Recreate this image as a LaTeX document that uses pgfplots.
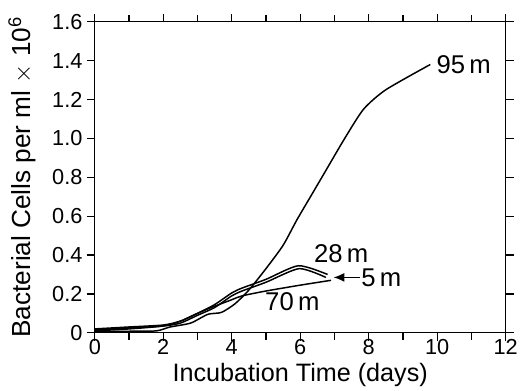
\documentclass[border=0pt]{standalone}
\usepackage{pgfplots}
\pgfplotsset{compat=1.18}
\usetikzlibrary{arrows.meta}
\usepackage{fontspec}
\setmainfont{Liberation Sans}
\begin{document}
\begin{tikzpicture}
\begin{axis}[
  width=416pt, height=315pt, scale only axis,
  xmin=0, xmax=12, ymin=0, ymax=1.6,
  xtick={0,2,...,12}, minor xtick={1,3,...,11},
  ytick={0,0.2,...,1.6},
  yticklabels={0,0.2,0.4,0.6,0.8,1.0,1.2,1.4,1.6},
  tick pos=both, tick align=outside,
  major tick length=8pt, minor tick length=7pt,
  major tick style={black, line width=1.3pt},
  minor tick style={black, line width=1.3pt},
  axis line style={line width=1.4pt},
  /pgf/number format/assume math mode=true,
  tick label style={font=\fontsize{22}{23}\selectfont},
  xticklabel style={yshift=5pt},
  yticklabel style={xshift=-1pt},
  xlabel={Incubation Time (days)},
  ylabel={Bacterial Cells per ml $\times$ 10\textsuperscript{6}},
  xlabel style={yshift=-2pt, font=\fontsize{25.5}{27}\selectfont},
  ylabel style={yshift=10pt, font=\fontsize{26.5}{28}\selectfont},
  clip=false,
]
% 5 m
\addplot[black, line width=1.5pt, smooth, tension=0.4] coordinates {(0,0.015) (1,0.025) (2,0.035) (2.5,0.05) (3,0.09) (3.5,0.13) (4,0.19) (4.3,0.215) (5,0.26) (5.97,0.33) (6.75,0.285)};
% 28 m
\addplot[black, line width=1.5pt, smooth, tension=0.4] coordinates {(0,0.01) (1,0.02) (2,0.035) (2.5,0.06) (3,0.1) (3.5,0.145) (4,0.205) (4.3,0.23) (5,0.275) (5.95,0.345) (6.8,0.30)};
% 70 m
\addplot[black, line width=1.5pt, smooth, tension=0.4] coordinates {(0,0.02) (1,0.03) (2,0.04) (2.5,0.06) (3,0.1) (3.4,0.13) (4,0.17) (4.3,0.19) (5,0.215) (6,0.245) (6.9,0.27)};
% 95 m
\addplot[black, line width=1.5pt, smooth, tension=0.4] coordinates {(0,0.005) (1,0.008) (1.8,0.01) (2.2,0.03) (2.8,0.05) (3.3,0.095) (3.7,0.105) (4.1,0.15) (4.5,0.22) (5,0.33) (5.5,0.45) (5.9,0.58) (6.3,0.70) (6.7,0.82) (7.3,1.0) (7.85,1.15) (8.5,1.25) (9.8,1.38)};
\node[anchor=west, font=\fontsize{26}{27}\selectfont, inner sep=1pt] at (axis cs:9.95,1.38) {95\,m};
\node[font=\fontsize{26}{27}\selectfont, inner sep=1pt] at (axis cs:7.2,0.405) {28\,m};
\node[font=\fontsize{26}{27}\selectfont, inner sep=1pt] at (axis cs:5.77,0.16) {70\,m};
\draw[-{Latex[length=11pt,width=9pt]}, line width=1.5pt] (axis cs:7.75,0.285) -- (axis cs:6.97,0.285);
\node[anchor=west, font=\fontsize{26}{27}\selectfont, inner sep=1pt] at (axis cs:7.75,0.285) {5\,m};
\path (rel axis cs:0,1) ++(0,22pt);
\path (rel axis cs:0,0.5) ++(-96pt,0);
\end{axis}
\end{tikzpicture}
\end{document}
